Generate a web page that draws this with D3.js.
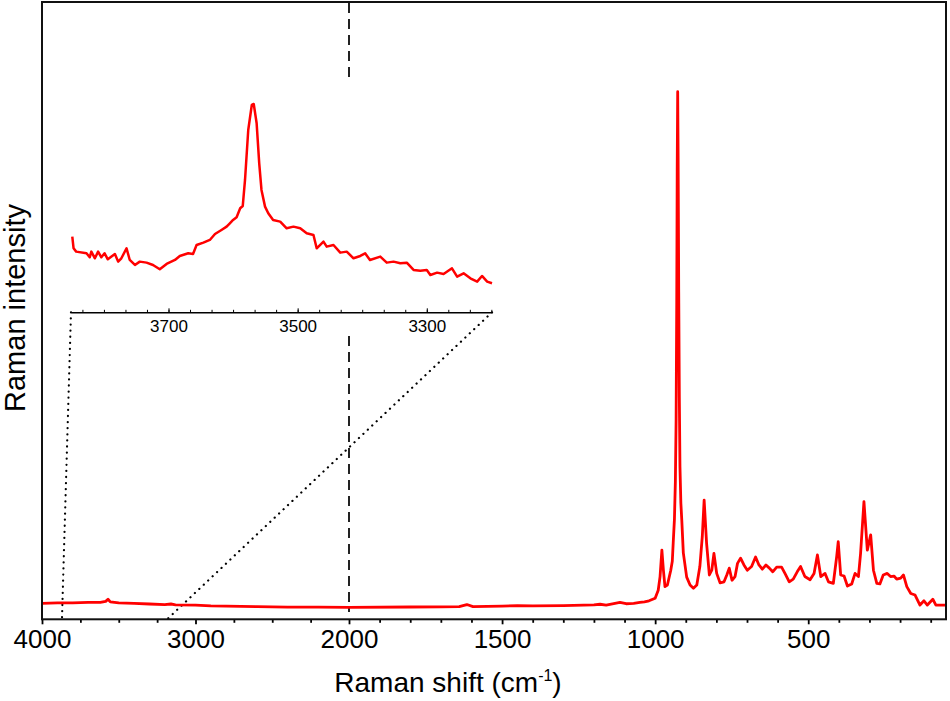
<!DOCTYPE html>
<html lang="en">
  <head>
    <meta charset="UTF-8" />
    <title>Raman spectrum</title>
    <script src="https://d3js.org/d3.v7.min.js"></script>
    <style>
      body {
        margin: 0;
        background: #fff;
      }
      svg text {
        font-family: Arial, "Liberation Sans", sans-serif;
        fill: #000;
      }
    </style>
  </head>
  <body>
    <div id="chart"></div>
    <script>
      // Main spectrum (cm-1, arbitrary intensity)
      const mainShift = [
        4000, 3900, 3800, 3700, 3620, 3585, 3570, 3555, 3500, 3400,
        3300, 3200, 3160, 3130, 3000, 2900, 2800, 2600, 2400, 2200,
        2000, 1800, 1700, 1640, 1615, 1595, 1500, 1450, 1400, 1300,
        1200, 1180, 1160, 1115, 1095, 1070, 1050, 1035, 1020, 1000,
        990, 984, 978, 973, 968, 960, 949, 944, 941, 937,
        934, 931.5, 929.5, 928, 926.4, 925, 923, 921, 919, 916,
        913, 908, 897, 886, 875, 864, 854, 846, 840, 832,
        823, 815, 808, 799, 788, 775, 766, 758, 749, 739,
        731, 721, 710, 699, 685, 672, 661, 650, 638, 627,
        616, 603, 587, 576, 562, 549, 536, 525, 511, 494,
        481, 470, 459, 445, 434, 418, 407, 402, 394, 383,
        372, 358, 347, 336, 329, 318, 307, 296, 287, 276,
        266, 255, 242, 231, 220, 211, 198, 189, 178, 165,
        151, 135, 122, 111, 93, 83, 65, 50,
      ];
      const mainIntensity = [
        3.0, 3.1, 3.1, 3.2, 3.2, 3.4, 3.8, 3.3, 3.1, 3.0,
        2.9, 2.8, 2.9, 2.75, 2.7, 2.55, 2.5, 2.4, 2.3, 2.3,
        2.27, 2.33, 2.37, 2.4, 2.8, 2.4, 2.5, 2.6, 2.55, 2.6,
        2.75, 2.85, 2.7, 3.2, 2.95, 3.0, 3.2, 3.3, 3.5, 4.0,
        5.5, 8.1, 13.1, 9.3, 6.2, 6.5, 9.3, 11, 14.5, 19,
        26, 38, 60, 85, 100, 88, 62, 42, 29, 22,
        18.8, 12.6, 8.0, 6.5, 5.9, 6.5, 10.0, 15.7, 22.6, 14.4,
        8.4, 9.3, 12.5, 8.7, 6.9, 7.1, 8.4, 9.7, 7.4, 8.1,
        10.6, 11.6, 10.3, 9.3, 10.0, 11.8, 10.3, 9.5, 10.3, 9.7,
        9.0, 9.9, 9.9, 8.7, 7.1, 7.6, 9.0, 10.0, 8.1, 7.5,
        8.7, 12.2, 8.1, 8.7, 7.1, 6.8, 11.9, 14.7, 8.4, 8.2,
        6.3, 6.7, 8.7, 8.1, 12.5, 22.3, 13.1, 16.0, 9.3, 6.8,
        6.7, 8.4, 8.7, 8.1, 8.2, 7.6, 7.8, 8.4, 6.2, 4.9,
        4.6, 2.7, 3.5, 2.7, 3.8, 2.7, 2.7, 2.7,
      ];

      // Inset: O-H stretching region
      const insetShift = [
        3849, 3847, 3843, 3827, 3822, 3819.5, 3814, 3809, 3804, 3799,
        3794, 3783, 3778, 3773, 3765, 3760, 3752, 3744.5, 3734, 3724,
        3713.5, 3703, 3690, 3682.5, 3669.5, 3662, 3656.5, 3646, 3636, 3628,
        3618, 3610, 3605, 3600, 3594.5, 3589, 3585, 3581.5, 3576.5, 3571,
        3568, 3563.5, 3559.5, 3556, 3550.5, 3545.5, 3538, 3527, 3517, 3506.5,
        3496, 3486, 3475.5, 3470.5, 3460, 3455, 3444.5, 3434, 3424, 3413.5,
        3403, 3395.5, 3388, 3372, 3362, 3351.5, 3341, 3331, 3320.5, 3310,
        3300, 3294.5, 3284, 3274, 3261, 3253, 3243, 3232.5, 3222, 3214.5,
        3206.5, 3199,
      ];
      const insetIntensity = [
        17.0, 13.5, 12.5, 12.0, 10.8, 12.5, 10.5, 12.5, 10.8, 12.0,
        10.2, 11.8, 9.5, 10.5, 13.5, 10.0, 8.5, 9.5, 9.2, 8.5,
        7.2, 8.8, 10.0, 11.2, 12.0, 11.8, 14.5, 15.2, 16.0, 17.8,
        19.0, 20.0, 21.0, 22.0, 22.8, 25.5, 26.2, 34.0, 49.0, 56.5,
        56.8, 51.0, 39.0, 31.0, 26.0, 24.0, 22.0, 21.5, 19.5, 20.0,
        19.5, 18.0, 17.5, 13.5, 15.5, 14.0, 14.5, 12.2, 12.5, 10.5,
        11.2, 12.0, 10.0, 11.0, 9.2, 9.5, 9.0, 9.2, 7.0, 6.8,
        7.0, 5.5, 6.2, 5.8, 7.5, 5.0, 6.0, 4.5, 3.5, 5.2,
        3.5, 3.0,
      ];

      // Tick labels
      const mainTicks = [4000, 3000, 2000, 1500, 1000, 500];
      const insetTicks = [3700, 3500, 3300];
      // where the inset range sits on the main axis
      const zoomFrom = [3870, 3185];
      const breakAt = 2000;

      const width = 950,
        height = 701;
      const plotLeft = 42,
        plotRight = 946,
        plotTop = 2,
        plotBottom = 619.3;

      const svg = d3
        .select("#chart")
        .append("svg")
        .attr("width", width)
        .attr("height", height);

      // Axe x en deux morceaux : 4000-2000 comprimé, 2000-50 étiré
      const x = d3
        .scaleLinear()
        .domain([4000, breakAt, 50])
        .range([plotLeft, 349, plotRight]);
      const y = d3.scaleLinear().domain([0, 117]).range([plotBottom, plotTop]);

      // Inset scales
      const xi = d3.scaleLinear().domain([3851, 3199]).range([71, 492]);
      const yi = d3.scaleLinear().domain([0, 60]).range([293.3, 93.3]);
      const insetAxisY = 312.3;

      // Dashed line at the break
      [[plotTop + 1, 78], [336, 612]].forEach(([y1, y2]) => {
        svg
          .append("line")
          .attr("x1", x(breakAt))
          .attr("x2", x(breakAt))
          .attr("y1", y1)
          .attr("y2", y2)
          .attr("stroke", "#222")
          .attr("stroke-width", 2)
          .attr("stroke-dasharray", "10,6");
      });

      // Dotted zoom guides
      const guides = [
        [xi.range()[0], x(zoomFrom[0])],
        [xi.range()[1], x(zoomFrom[1])],
      ];
      svg
        .selectAll("line.guide")
        .data(guides)
        .join("line")
        .attr("class", "guide")
        .attr("x1", (d) => d[0])
        .attr("y1", insetAxisY)
        .attr("x2", (d) => d[1])
        .attr("y2", plotBottom)
        .attr("stroke", "#000")
        .attr("stroke-width", 2.2)
        .attr("stroke-linecap", "round")
        .attr("stroke-dasharray", "0.1,6");

      // Main spectrum
      const mainData = mainShift.map((s, i) => [s, mainIntensity[i]]);
      svg
        .append("path")
        .datum(mainData)
        .attr("fill", "none")
        .attr("stroke", "#ff0000")
        .attr("stroke-width", 2.8)
        .attr("stroke-linejoin", "round")
        .attr(
          "d",
          d3
            .line()
            .x((d) => x(d[0]))
            .y((d) => y(d[1]))
        );

      // Inset spectrum
      const insetData = insetShift.map((s, i) => [s, insetIntensity[i]]);
      svg
        .append("path")
        .datum(insetData)
        .attr("fill", "none")
        .attr("stroke", "#ff0000")
        .attr("stroke-width", 2.5)
        .attr("stroke-linejoin", "round")
        .attr(
          "d",
          d3
            .line()
            .x((d) => xi(d[0]))
            .y((d) => yi(d[1]))
        );

      // Inset axis (ticks pointing up)
      const insetMinor = d3
        .range(3200, 3851, 200 / 6)
        .filter((v) => v >= 3199);
      svg
        .append("g")
        .attr("transform", `translate(0,${insetAxisY})`)
        .call(
          d3
            .axisBottom(xi)
            .tickValues(insetMinor)
            .tickSizeInner(-2.5)
            .tickSizeOuter(0)
            .tickFormat("")
        )
        .call((g) => g.select(".domain").attr("stroke-width", 1.5));
      svg
        .append("g")
        .attr("transform", `translate(0,${insetAxisY})`)
        .call(
          d3
            .axisBottom(xi)
            .tickValues(insetTicks)
            .tickSizeInner(-4)
            .tickSizeOuter(0)
            .tickPadding(8)
            .tickFormat(d3.format("d"))
        )
        .call((g) => g.select(".domain").remove())
        .call((g) =>
          g.selectAll("text").style("font-size", "17px").attr("fill", "#000")
        );

      // Main x axis, minor ticks
      const minorLeft = d3.range(3750, 2000, -250).filter((v) => v % 1000);
      const minorRight = d3.range(1900, 50, -100).filter((v) => v % 500);
      svg
        .append("g")
        .attr("transform", `translate(0,${plotBottom})`)
        .call(
          d3
            .axisBottom(x)
            .tickValues(minorLeft.concat(minorRight))
            .tickSizeInner(3.5)
            .tickSizeOuter(0)
            .tickFormat("")
        )
        .call((g) => g.select(".domain").remove())
        .call((g) => g.selectAll("line").attr("stroke-width", 1.8));

      // Main x axis, major ticks
      svg
        .append("g")
        .attr("transform", `translate(0,${plotBottom})`)
        .call(
          d3
            .axisBottom(x)
            .tickValues(mainTicks)
            .tickSizeInner(5)
            .tickSizeOuter(0)
            .tickPadding(5)
            .tickFormat(d3.format("d"))
        )
        .call((g) => g.select(".domain").remove())
        .call((g) => g.selectAll("line").attr("stroke-width", 1.8))
        .call((g) =>
          g.selectAll("text").style("font-size", "26px").attr("fill", "#000")
        );

      // Frame
      svg
        .append("rect")
        .attr("x", plotLeft)
        .attr("y", plotTop)
        .attr("width", plotRight - plotLeft)
        .attr("height", plotBottom - plotTop)
        .attr("fill", "none")
        .attr("stroke", "#111")
        .attr("stroke-width", 2);

      // Axis titles
      const xTitle = svg
        .append("text")
        .attr("x", 448)
        .attr("y", 692)
        .attr("text-anchor", "middle")
        .style("font-size", "28px");
      xTitle.append("tspan").text("Raman shift (cm");
      xTitle
        .append("tspan")
        .attr("dy", -11)
        .style("font-size", "16px")
        .text("-1");
      xTitle.append("tspan").attr("dy", 11).text(")");

      svg
        .append("text")
        .attr("transform", "translate(25,308) rotate(-90)")
        .attr("text-anchor", "middle")
        .style("font-size", "29px")
        .text("Raman intensity");
    </script>
  </body>
</html>
